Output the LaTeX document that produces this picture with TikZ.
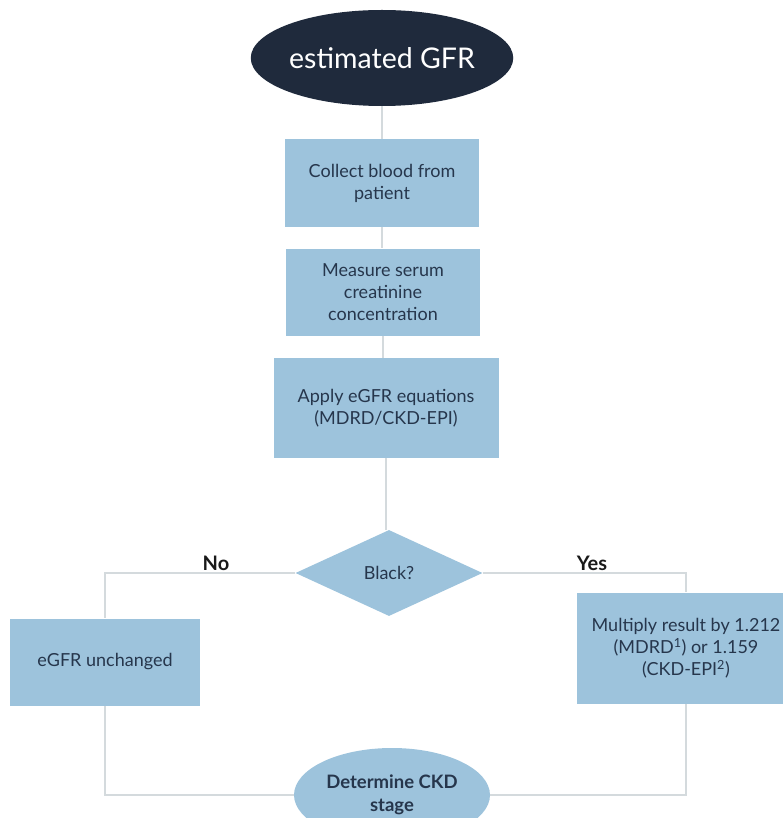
\documentclass[tikz,border=0pt]{standalone}
\usepackage{fontspec}
\setmainfont{Lato}
\usetikzlibrary{shapes.geometric}
\definecolor{boxblue}{RGB}{157,195,220}
\definecolor{navy}{RGB}{31,42,60}
\definecolor{inkblue}{RGB}{38,54,76}
\definecolor{linegray}{RGB}{212,218,221}
\begin{document}
\begin{tikzpicture}[x=1pt,y=-1pt,
  stepbox/.style={rectangle,fill=boxblue,text=inkblue,align=center,inner sep=2pt,
    font=\fontsize{18}{22}\selectfont},
  terminal/.style={ellipse,fill=navy,text=white,inner sep=0pt,
    font=\fontsize{28.5}{32}\selectfont},
  endcap/.style={ellipse,fill=boxblue,text=inkblue,align=center,inner sep=0pt,
    font=\bfseries\fontsize{18.5}{23}\selectfont},
  decision/.style={diamond,fill=boxblue,text=inkblue,inner sep=0pt,
    font=\fontsize{18}{22}\selectfont},
  flow/.style={linegray,line width=2pt},
  branch/.style={font=\bfseries\fontsize{20}{22}\selectfont,text=black!90}]
  \useasboundingbox (0,0) rectangle (783,818);
  \node[terminal,minimum width=218,minimum height=96] (start) at (382,58) {estimated GFR};
  \node[stepbox,minimum width=194,minimum height=87] (collect) at (382,183) {Collect blood from\\patient};
  \node[stepbox,minimum width=194,minimum height=87] (measure) at (383,292) {Measure serum\\creatinine\\concentration};
  \node[stepbox,minimum width=225,minimum height=100] (apply) at (386,408) {Apply eGFR equations\\(MDRD/CKD-EPI)};
  \node[decision,minimum width=187,minimum height=86] (black) at (389,573) {Black?};
  \node[stepbox,minimum width=190,minimum height=87] (unchanged) at (105,662) {eGFR unchanged};
  \node[stepbox,minimum width=218,minimum height=111] (multiply) at (686,648)
    {Multiply result by 1.212\\(MDRD\textsuperscript{1}) or 1.159\\(CKD-EPI\textsuperscript{2})};
  \node[endcap,minimum width=196,minimum height=94] (finish) at (392,795) {Determine CKD\\stage};
  \node[branch] (no) at (216,563) {No};
  \node[branch] (yes) at (592,563) {Yes};
  \draw[flow] (start.south) -- (start.south |- collect.north);
  \draw[flow] (collect.south) -- (collect.south |- measure.north);
  \draw[flow] (measure.south) -- (measure.south |- apply.north);
  \draw[flow] (apply.south) -- (apply.south |- black.north);
  \draw[flow] (black.west) -| (unchanged.north);
  \draw[flow] (black.east) -| (multiply.north);
  \draw[flow] (unchanged.south) |- (finish.west);
  \draw[flow] (multiply.south) |- (finish.east);
\end{tikzpicture}
\end{document}
